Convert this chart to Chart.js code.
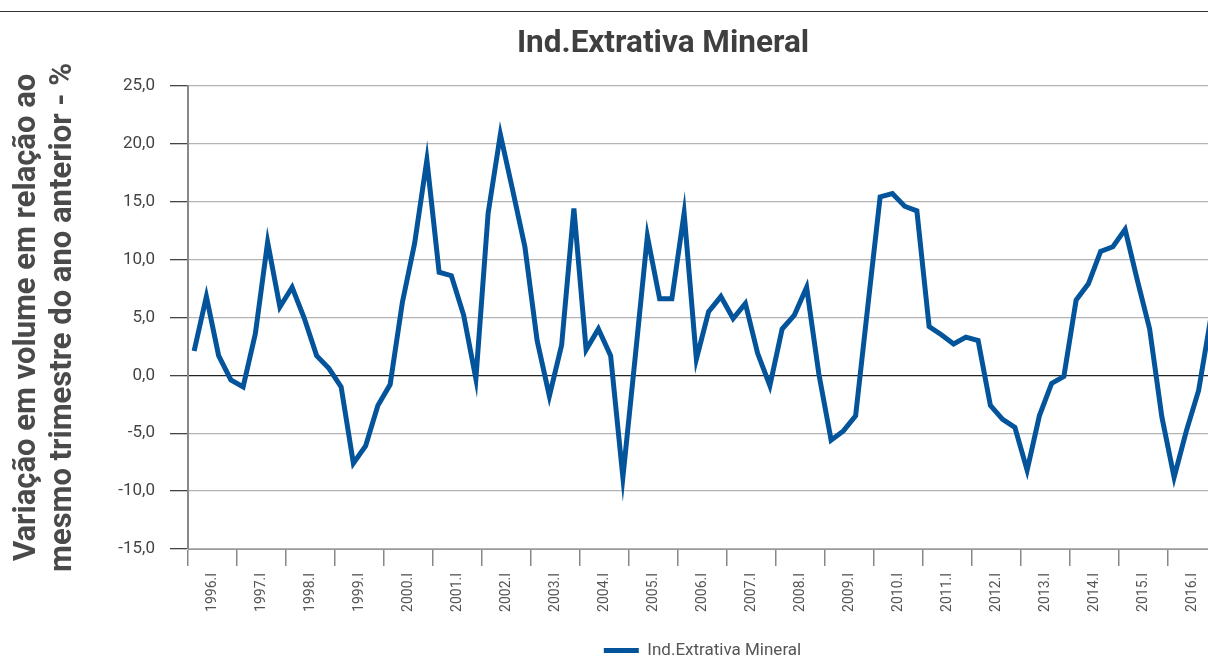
<!DOCTYPE html>
<html lang="pt">
<head>
  <meta charset="UTF-8" />
  <title>Ind.Extrativa Mineral</title>
  <script src="https://cdn.jsdelivr.net/npm/chart.js"></script>
  <style>
    body {
      margin: 0;
      background: #ffffff;
      overflow: hidden;
      width: 1208px;
      height: 667px;
      position: relative;
    }
    .topline {
      position: absolute;
      left: 0;
      top: 11px;
      width: 1208px;
      border-top: 1.5px solid #333333;
    }
    .chart-box {
      position: absolute;
      left: 0;
      top: 0;
      width: 1326px;
      height: 667px;
    }
  </style>
</head>
<body>
  <div class="topline"></div>
  <div class="chart-box">
    <canvas id="chart"></canvas>
  </div>

  <script>
    const years = [1996, 1997, 1998, 1999, 2000, 2001, 2002, 2003, 2004, 2005, 2006,
                   2007, 2008, 2009, 2010, 2011, 2012, 2013, 2014, 2015, 2016];
    const quarters = ['I', 'II', 'III', 'IV'];
    const quarterLabels = [];
    years.forEach(y => quarters.forEach(q => quarterLabels.push(y + '.' + q)));

    // variação % sobre o mesmo trimestre do ano anterior
    const extrativaValues = [
       2.1,  6.8,  1.7, -0.4,
      -1.0,  3.6, 11.5,  5.9,
       7.6,  4.9,  1.7,  0.6,
      -1.0, -7.6, -6.1, -2.6,
      -0.8,  6.3, 11.4, 18.6,
       8.9,  8.6,  5.2, -0.3,
      14.0, 20.8, 16.0, 11.1,
       3.0, -1.8,  2.6, 14.4,
       2.2,  4.0,  1.7, -8.8,
       1.5, 12.0,  6.6,  6.6,
      14.0,  1.4,  5.5,  6.8,
       4.9,  6.2,  1.9, -0.9,
       4.0,  5.2,  7.6,  0.1,
      -5.6, -4.8, -3.5,  6.0,
      15.4, 15.7, 14.6, 14.2,
       4.2,  3.5,  2.7,  3.3,
       3.0, -2.6, -3.8, -4.5,
      -8.2, -3.5, -0.7, -0.1,
       6.5,  7.9, 10.7, 11.1,
      12.6,  8.2,  4.0, -3.6,
      -8.8, -4.8, -1.3,  5.0
    ];

    const yTicks = [-15, -10, -5, 0, 5, 10, 15, 20, 25];
    const lineColor = '#03549a';

    new Chart(document.getElementById('chart'), {
      type: 'line',
      data: {
        labels: quarterLabels,
        datasets: [{
          label: 'Ind.Extrativa Mineral',
          data: extrativaValues,
          borderColor: lineColor,
          backgroundColor: lineColor,
          borderWidth: 5,
          pointRadius: 0,
          tension: 0,
          yAxisID: 'y'
        }]
      },
      options: {
        responsive: true,
        maintainAspectRatio: false,
        animation: false,
        layout: { padding: { top: 6, left: 0, right: 0, bottom: -2 } },
        plugins: {
          title: {
            display: true,
            text: 'Ind.Extrativa Mineral',
            color: '#3f3f3f',
            font: { family: 'Roboto', size: 31.5, weight: 'bold' },
            padding: { top: 19, bottom: 23 }
          },
          legend: {
            position: 'bottom',
            fullSize: false,
            labels: {
              usePointStyle: true,
              pointStyle: 'line',
              pointStyleWidth: 35,
              padding: 2,
              color: '#555555',
              font: { family: 'Roboto', size: 17 }
            }
          },
          tooltip: { enabled: false }
        },
        scales: {
          x: {
            type: 'category',
            offset: true,
            afterFit: (scale) => { scale.height = 91; },
            grid: {
              offset: true,
              drawOnChartArea: false,
              tickLength: 17,
              lineWidth: 1.5,
              tickColor: (ctx) => ctx.index % 4 === 0 ? '#888888' : 'rgba(0,0,0,0)'
            },
            border: { display: true, color: '#999999', width: 1 },
            ticks: {
              autoSkip: false,
              minRotation: 90,
              maxRotation: 90,
              labelOffset: 18.4,
              padding: 7,
              color: '#555555',
              font: { family: 'Roboto', size: 14 },
              callback: (value, index) => index % 4 === 0 ? quarterLabels[index] : ''
            }
          },
          y: {
            position: 'left',
            min: -15,
            max: 25,
            afterFit: (scale) => { scale.width = 188; },
            afterBuildTicks: (scale) => { scale.ticks = yTicks.map(v => ({ value: v })); },
            grid: {
              color: (ctx) => ctx.tick && ctx.tick.value === 0 ? '#222222' : '#b4b4b4',
              lineWidth: 1.3,
              tickColor: '#444444',
              tickLength: 18
            },
            border: { display: true, color: '#888888', width: 2 },
            ticks: {
              padding: 15,
              color: '#444444',
              font: { family: 'Roboto', size: 17 },
              callback: (value) => value.toFixed(1).replace('.', ',')
            },
            title: {
              display: true,
              text: ['Variação em volume em relação ao', 'mesmo trimestre do ano anterior - %'],
              color: '#4a4a4a',
              font: { family: 'Roboto', size: 31, weight: 'bold', lineHeight: 1.17 },
              padding: { top: 9, bottom: 0 }
            }
          },
          spacer: {
            position: 'right',
            display: true,
            afterFit: (scale) => { scale.width = 109; },
            grid: { display: false, drawOnChartArea: false },
            border: { display: false },
            ticks: { display: false }
          }
        }
      }
    });
  </script>
</body>
</html>
